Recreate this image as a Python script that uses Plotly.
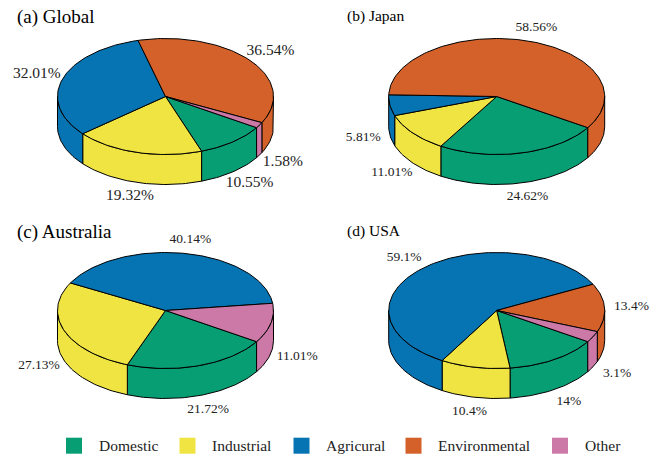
import numpy as np
import plotly.graph_objects as go

# ---------------- data ----------------
categories = ["Domestic", "Industrial", "Agricural", "Environmental", "Other"]
panel_titles = ["(a) Global", "(b) Japan", "(c) Australia", "(d) USA"]
global_vals = [10.55, 19.32, 32.01, 36.54, 1.58]
japan_vals = [24.62, 11.01, 5.81, 58.56, 0]
australia_vals = [21.72, 27.13, 40.14, 0, 11.01]
usa_vals = [14, 10.4, 59.1, 13.4, 3.1]

# ---------------- style / layout ----------------
colors = ["#089E74", "#F0E442", "#0673B3", "#D4612A", "#CC79A7"]
FONT = "Liberation Serif, Times New Roman, serif"
W, H = 658, 456
RX, RY, DEPTH = 108.0, 58.0, 30.0
START = -32.5  # degrees, slices run clockwise
centers = [(165.5, 96.5), (496.7, 96.5), (165.5, 310.5), (496.7, 310.5)]
title_pos = [(15, 17, 19), (345, 15.5, 15.5), (15, 232, 19), (345, 230.5, 15.5)]
label_size = [15.5, 13.5, 13.5, 13.5]
legend_sq_x = [74, 187.5, 301.5, 413.5, 560]
legend_y = 445.7

fig = go.Figure()


def arc(cx, cy, a, b, dz=0.0, n=None):
    if n is None:
        n = max(2, int(abs(b - a) / 1.5) + 2)
    th = np.linspace(a, b, n)
    r = np.radians(th)
    return list(cx + RX * np.cos(r)), list(cy - RY * np.sin(r) + dz)


def draw_pie(vals, cx, cy, lsize):
    vals = np.array(vals, dtype=float)
    cum = np.concatenate([[0], np.cumsum(vals)]) / vals.sum() * 360.0
    bounds = START - cum  # clockwise
    # side walls (front half only)
    fronts = [(-180.0, 0.0), (-540.0, -360.0)]
    for k in range(len(vals)):
        if vals[k] <= 0:
            continue
        hi, lo = bounds[k], bounds[k + 1]
        for f0, f1 in fronts:
            a = max(lo, f0)
            b = min(hi, f1)
            if b - a <= 1e-6:
                continue
            xt, yt = arc(cx, cy, a, b)
            xb, yb = arc(cx, cy, b, a, DEPTH)
            xs = xt + xb + [xt[0]]
            ys = yt + yb + [yt[0]]
            fig.add_trace(go.Scatter(x=xs, y=ys, mode="lines", fill="toself",
                                     fillcolor=colors[k],
                                     line=dict(color="black", width=1),
                                     hoverinfo="skip", showlegend=False))
    # top faces
    for k in range(len(vals)):
        if vals[k] <= 0:
            continue
        xa, ya = arc(cx, cy, bounds[k], bounds[k + 1])
        xs = [cx] + xa + [cx]
        ys = [cy] + ya + [cy]
        fig.add_trace(go.Scatter(x=xs, y=ys, mode="lines", fill="toself",
                                 fillcolor=colors[k],
                                 line=dict(color="black", width=1),
                                 hoverinfo="skip", showlegend=False))
    # percentage labels
    lx, ly, lt = [], [], []
    for k in range(len(vals)):
        if vals[k] <= 0:
            continue
        mid = np.radians((bounds[k] + bounds[k + 1]) / 2)
        x = cx + 1.25 * RX * np.cos(mid)
        y = cy - 1.25 * RY * np.sin(mid) + (DEPTH if np.sin(mid) < 0 else 0)
        lx.append(x)
        ly.append(y)
        lt.append(f"{vals[k]:g}%")
    fig.add_trace(go.Scatter(x=lx, y=ly, mode="text", text=lt,
                             textposition="middle center",
                             textfont=dict(family=FONT, size=lsize, color="#222"),
                             hoverinfo="skip", showlegend=False))


all_vals = [global_vals, japan_vals, australia_vals, usa_vals]
for i, v in enumerate(all_vals):
    cx, cy = centers[i]
    draw_pie(v, cx, cy, label_size[i])
    tx, ty, ts = title_pos[i]
    fig.add_annotation(x=tx, y=ty, text=panel_titles[i], showarrow=False,
                       xanchor="left", yanchor="middle",
                       font=dict(family=FONT, size=ts, color="black"))

# legend
for k, name in enumerate(categories):
    fig.add_trace(go.Scatter(x=[legend_sq_x[k]], y=[legend_y], mode="markers",
                             marker=dict(symbol="square", size=16, color=colors[k],
                                         line=dict(width=0)),
                             hoverinfo="skip", showlegend=False))
    fig.add_annotation(x=legend_sq_x[k] + 22.5, y=legend_y, text=name, showarrow=False,
                       xanchor="left", yanchor="middle",
                       font=dict(family=FONT, size=15.5, color="#222"))

fig.update_layout(
    width=W, height=H,
    margin=dict(l=0, r=0, t=0, b=0, pad=0),
    paper_bgcolor="white", plot_bgcolor="white",
    xaxis=dict(range=[0, W], visible=False, fixedrange=True),
    yaxis=dict(range=[H, 0], visible=False, fixedrange=True),
    showlegend=False,
)

fig.write_html("out.html")
